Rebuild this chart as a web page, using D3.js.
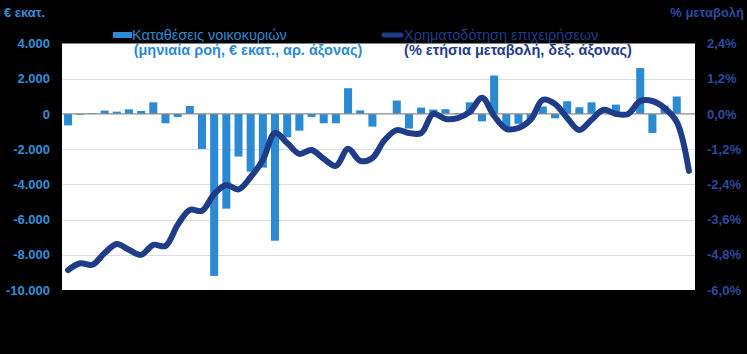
<!DOCTYPE html>
<html>
<head>
<meta charset="utf-8">
<script src="https://cdn.jsdelivr.net/npm/d3@7"></script>
<style>
  html, body { margin: 0; padding: 0; background: #000; }
  svg { display: block; font-family: Arial, "Liberation Sans", sans-serif; }
</style>
</head>
<body>
<script>
// household deposits, monthly flow (€ mn, left axis); last month has no bar
const deposits = [
  -650, -50, 50, 190, 130, 260, 170, 660, -530, -170,
  450, -1990, -9200, -5380, -2420, -3280, -3050, -7200, -1330, -950,
  -170, -530, -530, 1460, 200, -720, 0, 760, -830, 360,
  250, 270, 50, 660, -420, 2180, -720, -560, -300, 420,
  -250, 720, 380, 660, 0, 530, 0, 2610, -1080, 470,
  990, null
];
// credit to businesses, annual % change (right axis)
const credit = [
  -5.32, -5.09, -5.14, -4.74, -4.43, -4.63, -4.80, -4.46, -4.50, -3.78,
  -3.27, -3.30, -2.73, -2.42, -2.57, -2.15, -1.57, -0.65, -0.99, -1.36,
  -1.23, -1.53, -1.77, -1.19, -1.60, -1.50, -0.89, -0.55, -0.65, -0.65,
  0.00, -0.17, -0.14, 0.07, 0.55, -0.07, -0.51, -0.48, -0.20, 0.48,
  0.34, -0.14, -0.55, -0.20, 0.14, 0.00, 0.00, 0.44, 0.44, 0.20,
  -0.27, -1.94
];
const months = d3.range(credit.length);
const leftTicks = [4000, 2000, 0, -2000, -4000, -6000, -8000, -10000];
const rightTicks = [2.4, 1.2, 0, -1.2, -2.4, -3.6, -4.8, -6.0];
const legendBar = ["Καταθέσεις νοικοκυριών", "(μηνιαία ροή, € εκατ., αρ. άξονας)"];
const legendLine = ["Χρηματοδότηση επιχειρήσεων", "(% ετήσια μεταβολή, δεξ. άξονας)"];

const width = 747, height = 354;
const plot = { left: 62, right: 695, top: 43.5, bottom: 290 };
const barColor = "#2b8ad2";
const lineColor = "#1f3c88";
const leftText = "#3290d8";
const rightText = "#2c4a9e";

const gr = d3.formatLocale({ decimal: ",", thousands: ".", grouping: [3], currency: ["€", ""], minus: "-" });

const x = d3.scaleBand()
  .domain(months)
  .range([plot.left, plot.right])
  .paddingInner(0.34)
  .paddingOuter(0.17);
const yLeft = d3.scaleLinear().domain([-10000, 4000]).range([plot.bottom, plot.top]);
const yRight = d3.scaleLinear().domain([-6, 2.4]).range([plot.bottom, plot.top]);

const svg = d3.select("body").append("svg")
  .attr("width", width)
  .attr("height", height)
  .style("background", "#000");

svg.append("rect")
  .attr("x", plot.left)
  .attr("y", plot.top)
  .attr("width", plot.right - plot.left)
  .attr("height", plot.bottom - plot.top)
  .attr("fill", "#fff");

// gridlines
svg.append("g")
  .selectAll("line")
  .data(leftTicks.filter(d => d !== 0 && d !== 4000 && d !== -10000))
  .join("line")
  .attr("x1", plot.left)
  .attr("x2", plot.right)
  .attr("y1", d => Math.round(yLeft(d)) + 0.5)
  .attr("y2", d => Math.round(yLeft(d)) + 0.5)
  .attr("stroke", "#dcdcdc")
  .attr("stroke-width", 1);

// bars
svg.append("g")
  .selectAll("rect")
  .data(deposits.map((v, i) => ({ i, v })).filter(d => d.v !== null))
  .join("rect")
  .attr("x", d => x(d.i))
  .attr("width", x.bandwidth())
  .attr("y", d => yLeft(Math.max(0, d.v)))
  .attr("height", d => Math.abs(yLeft(d.v) - yLeft(0)))
  .attr("fill", barColor);

// zero line
svg.append("line")
  .attr("x1", plot.left)
  .attr("x2", plot.right)
  .attr("y1", yLeft(0))
  .attr("y2", yLeft(0))
  .attr("stroke", "#8c8c8c")
  .attr("stroke-width", 1.2);

// credit line
const line = d3.line()
  .x((d, i) => x(i) + x.bandwidth() / 2)
  .y(d => yRight(d))
  .curve(d3.curveCatmullRom.alpha(0.5));

svg.append("path")
  .datum(credit)
  .attr("d", line)
  .attr("fill", "none")
  .attr("stroke", lineColor)
  .attr("stroke-width", 6)
  .attr("stroke-linecap", "round")
  .attr("stroke-linejoin", "round");

// left axis
const axL = svg.append("g")
  .attr("transform", `translate(${plot.left},0)`)
  .call(d3.axisLeft(yLeft).tickValues(leftTicks).tickSize(0).tickPadding(12).tickFormat(gr.format(",.0f")));
axL.select(".domain").remove();
axL.selectAll("text")
  .attr("fill", leftText)
  .attr("font-size", "13px")
  .attr("font-weight", "700")
  .style("font-family", "Arial, 'Liberation Sans', sans-serif");

// right axis
const axR = svg.append("g")
  .attr("transform", `translate(${plot.right},0)`)
  .call(d3.axisRight(yRight).tickValues(rightTicks).tickSize(0).tickPadding(12).tickFormat(d => gr.format(".1f")(d) + "%"));
axR.select(".domain").remove();
axR.selectAll("text")
  .attr("fill", rightText)
  .attr("font-size", "13px")
  .attr("font-weight", "700")
  .style("font-family", "Arial, 'Liberation Sans', sans-serif");

// axis titles
svg.append("text")
  .attr("x", 4)
  .attr("y", 17)
  .attr("fill", leftText)
  .attr("font-size", "13px")
  .attr("font-weight", "700")
  .text("€ εκατ.");
svg.append("text")
  .attr("x", 744)
  .attr("y", 17)
  .attr("text-anchor", "end")
  .attr("fill", rightText)
  .attr("font-size", "13px")
  .attr("font-weight", "700")
  .text("% μεταβολή");

// legend
svg.append("rect")
  .attr("x", 113)
  .attr("y", 32)
  .attr("width", 19)
  .attr("height", 6)
  .attr("fill", barColor);
svg.append("text")
  .attr("x", 132)
  .attr("y", 40)
  .attr("fill", barColor)
  .attr("font-size", "14.5px")
  .text(legendBar[0]);
svg.append("text")
  .attr("x", 248)
  .attr("y", 55)
  .attr("text-anchor", "middle")
  .attr("fill", barColor)
  .attr("font-size", "14.5px")
  .attr("font-weight", "700")
  .text(legendBar[1]);

svg.append("line")
  .attr("x1", 384)
  .attr("x2", 401)
  .attr("y1", 35)
  .attr("y2", 35)
  .attr("stroke", lineColor)
  .attr("stroke-width", 5)
  .attr("stroke-linecap", "round");
svg.append("text")
  .attr("x", 404)
  .attr("y", 40)
  .attr("fill", lineColor)
  .attr("font-size", "14.5px")
  .text(legendLine[0]);
svg.append("text")
  .attr("x", 518)
  .attr("y", 55)
  .attr("text-anchor", "middle")
  .attr("fill", lineColor)
  .attr("font-size", "14.5px")
  .attr("font-weight", "700")
  .text(legendLine[1]);
</script>
</body>
</html>
